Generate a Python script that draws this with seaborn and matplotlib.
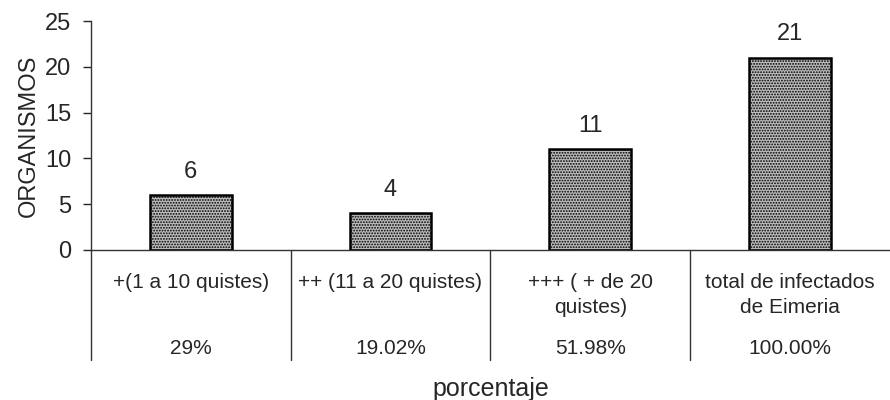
import matplotlib
matplotlib.use("Agg")
import matplotlib.pyplot as plt
import matplotlib.transforms as mtransforms
import seaborn as sns
import pandas as pd

categorias = ["+(1 a 10 quistes)", "++ (11 a 20 quistes)",
              "+++ ( + de 20\nquistes)", "total de infectados\nde Eimeria"]
organismos = [6, 4, 11, 21]
porcentajes = ["29%", "19.02%", "51.98%", "100.00%"]

sns.set_style("white")
plt.rcParams['font.family'] = ['Liberation Sans', 'DejaVu Sans']
plt.rcParams['hatch.linewidth'] = 0.9

df = pd.DataFrame({"categoria": categorias, "organismos": organismos})

fig = plt.figure(figsize=(8.9, 4), dpi=100)
ax = fig.add_axes([0.102, 0.375, 0.898, 0.5725])

sns.barplot(data=df, x="categoria", y="organismos", color="#bdbdbd",
            width=0.41, edgecolor="black", linewidth=1.8, saturation=1, ax=ax)
for barra in ax.patches:
    barra.set_hatch("......")
ax.bar_label(ax.containers[0], padding=9, fontsize=17)

ax.set_xlim(-0.5, 3.5)
ax.set_ylim(0, 25)
ax.set_yticks(range(0, 26, 5))
ax.tick_params(axis="y", left=True, length=6, width=1, labelsize=17, pad=8)
ax.set_xticks([])
ax.set_xlabel("")
ax.set_ylabel("ORGANISMOS", fontsize=17, labelpad=4)

for lado in ["top", "right"]:
    ax.spines[lado].set_visible(False)
for lado in ["left", "bottom"]:
    ax.spines[lado].set_color("#333333")
    ax.spines[lado].set_linewidth(1)

# tabla bajo el eje
trans = mtransforms.blended_transform_factory(ax.transData, ax.transAxes)
for x in [-0.5, 0.5, 1.5, 2.5]:
    ax.plot([x, x], [0, -0.48], transform=trans, color="#333333", lw=1, clip_on=False)
for i, (cat, pct) in enumerate(zip(categorias, porcentajes)):
    ax.text(i, -0.1, cat, transform=trans, ha="center", va="top",
            fontsize=15, linespacing=1.4)
    ax.text(i, -0.43, pct, transform=trans, ha="center", va="center", fontsize=15)

ax.text(0.5, -0.605, "porcentaje", transform=ax.transAxes, ha="center",
        va="center", fontsize=18)

fig.savefig("out.png", dpi=100)
